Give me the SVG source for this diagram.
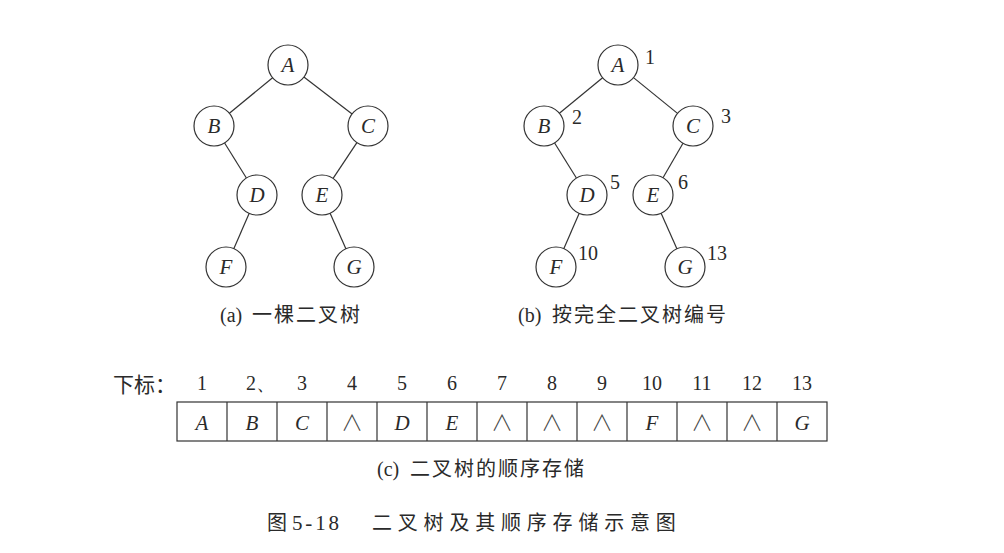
<svg xmlns="http://www.w3.org/2000/svg" width="1004" height="553" viewBox="0 0 1004 553">
<style>
.bg{fill:#ffffff}
.node circle{fill:none;stroke:#333;stroke-width:1.2}
.lbl{font-family:"Liberation Serif","DejaVu Serif",serif;font-style:italic;font-size:21px;fill:#2a2a2a;text-anchor:middle}
.num{font-family:"Liberation Serif","DejaVu Serif",serif;font-size:20px;fill:#2a2a2a}
.numc{text-anchor:middle}
.cap{font-family:"Liberation Serif","Noto Sans CJK SC",serif;font-size:20px;fill:#2a2a2a}
.cj{font-family:"Noto Sans CJK SC",sans-serif;letter-spacing:2px}
#edges line{stroke:#333;stroke-width:1.2}
.cell rect{fill:none;stroke:#333;stroke-width:1.2}
.div{stroke:#333;stroke-width:1.2}
.nil{font-family:"Noto Sans CJK SC",sans-serif;font-weight:300;font-size:22px;fill:#444;text-anchor:middle}
</style>
<rect class="bg" x="0" y="0" width="1004" height="553"/>

<g id="edges">
  <line x1="272.6" y1="77.7" x2="229.4" y2="113.3"/>
  <line x1="303.9" y1="77.1" x2="352.1" y2="113.9"/>
  <line x1="224.6" y1="143.0" x2="246.4" y2="178.0"/>
  <line x1="356.9" y1="142.6" x2="333.1" y2="178.4"/>
  <line x1="249.1" y1="213.4" x2="233.9" y2="248.6"/>
  <line x1="330.1" y1="213.3" x2="345.9" y2="248.7"/>
  <line x1="602.6" y1="77.7" x2="559.4" y2="113.3"/>
  <line x1="633.5" y1="77.6" x2="677.5" y2="113.4"/>
  <line x1="554.6" y1="143.0" x2="576.4" y2="178.0"/>
  <line x1="683.0" y1="143.3" x2="663.0" y2="177.7"/>
  <line x1="579.1" y1="213.4" x2="563.9" y2="248.6"/>
  <line x1="661.1" y1="213.3" x2="676.9" y2="248.7"/>
</g>

<!-- Tree (a) -->
<g id="a-A" class="node"><circle cx="288" cy="65" r="20"/><text class="lbl" x="288" y="72">A</text></g>
<g id="a-B" class="node"><circle cx="214" cy="126" r="20"/><text class="lbl" x="214" y="133">B</text></g>
<g id="a-C" class="node"><circle cx="368" cy="126" r="20"/><text class="lbl" x="368" y="133">C</text></g>
<g id="a-D" class="node"><circle cx="257" cy="195" r="20"/><text class="lbl" x="257" y="202">D</text></g>
<g id="a-E" class="node"><circle cx="322" cy="195" r="20"/><text class="lbl" x="322" y="202">E</text></g>
<g id="a-F" class="node"><circle cx="226" cy="267" r="20"/><text class="lbl" x="226" y="274">F</text></g>
<g id="a-G" class="node"><circle cx="354" cy="267" r="20"/><text class="lbl" x="354" y="274">G</text></g>

<!-- Tree (b) -->
<g id="b-A" class="node"><circle cx="618" cy="65" r="20"/><text class="lbl" x="618" y="72">A</text><text class="num numc" x="650" y="64">1</text></g>
<g id="b-B" class="node"><circle cx="544" cy="126" r="20"/><text class="lbl" x="544" y="133">B</text><text class="num numc" x="577" y="124">2</text></g>
<g id="b-C" class="node"><circle cx="693" cy="126" r="20"/><text class="lbl" x="693" y="133">C</text><text class="num numc" x="726" y="123">3</text></g>
<g id="b-D" class="node"><circle cx="587" cy="195" r="20"/><text class="lbl" x="587" y="202">D</text><text class="num numc" x="615" y="189">5</text></g>
<g id="b-E" class="node"><circle cx="653" cy="195" r="20"/><text class="lbl" x="653" y="202">E</text><text class="num numc" x="683" y="189">6</text></g>
<g id="b-F" class="node"><circle cx="556" cy="267" r="20"/><text class="lbl" x="556" y="274">F</text><text class="num numc" x="588" y="260">10</text></g>
<g id="b-G" class="node"><circle cx="685" cy="267" r="20"/><text class="lbl" x="685" y="274">G</text><text class="num numc" x="717" y="260">13</text></g>

<!-- captions -->
<text class="cap" x="220" y="322">(a) <tspan class="cj" x="252">一棵二叉树</tspan></text>
<text class="cap" x="518" y="322">(b) <tspan class="cj" x="552">按完全二叉树编号</tspan></text>

<!-- index row -->
<g id="index">
  <text class="cap" x="113" y="392" style="font-size:21px;font-family:'Noto Sans CJK SC',sans-serif">下标：</text>
  <text class="num numc" x="202" y="390">1</text>
  <text class="num" x="246" y="390">2、</text>
  <text class="num numc" x="302" y="390">3</text>
  <text class="num numc" x="352" y="390">4</text>
  <text class="num numc" x="402" y="390">5</text>
  <text class="num numc" x="452" y="390">6</text>
  <text class="num numc" x="502" y="390">7</text>
  <text class="num numc" x="552" y="390">8</text>
  <text class="num numc" x="602" y="390">9</text>
  <text class="num numc" x="652" y="390">10</text>
  <text class="num numc" x="702" y="390">11</text>
  <text class="num numc" x="752" y="390">12</text>
  <text class="num numc" x="802" y="390">13</text>
</g>

<g id="array" class="cell">
  <rect x="177" y="402" width="650" height="39"/>
  <line class="div" x1="227" y1="402" x2="227" y2="441"/>
  <line class="div" x1="277" y1="402" x2="277" y2="441"/>
  <line class="div" x1="327" y1="402" x2="327" y2="441"/>
  <line class="div" x1="377" y1="402" x2="377" y2="441"/>
  <line class="div" x1="427" y1="402" x2="427" y2="441"/>
  <line class="div" x1="477" y1="402" x2="477" y2="441"/>
  <line class="div" x1="527" y1="402" x2="527" y2="441"/>
  <line class="div" x1="577" y1="402" x2="577" y2="441"/>
  <line class="div" x1="627" y1="402" x2="627" y2="441"/>
  <line class="div" x1="677" y1="402" x2="677" y2="441"/>
  <line class="div" x1="727" y1="402" x2="727" y2="441"/>
  <line class="div" x1="777" y1="402" x2="777" y2="441"/>
  <text class="lbl" x="202" y="430">A</text>
  <text class="lbl" x="252" y="430">B</text>
  <text class="lbl" x="302" y="430">C</text>
  <text class="nil" x="352" y="430">∧</text>
  <text class="lbl" x="402" y="430">D</text>
  <text class="lbl" x="452" y="430">E</text>
  <text class="nil" x="502" y="430">∧</text>
  <text class="nil" x="552" y="430">∧</text>
  <text class="nil" x="602" y="430">∧</text>
  <text class="lbl" x="652" y="430">F</text>
  <text class="nil" x="702" y="430">∧</text>
  <text class="nil" x="752" y="430">∧</text>
  <text class="lbl" x="802" y="430">G</text>
</g>

<text class="cap" x="377" y="476">(c) <tspan class="cj" x="410">二叉树的顺序存储</tspan></text>

<g id="title">
  <text class="cap" x="267" y="530" style="font-family:'Noto Sans CJK SC',sans-serif">图</text>
  <text class="num" x="292" y="530" textLength="47" lengthAdjust="spacing" style="font-size:21px">5-18</text>
  <text class="cap" x="372" y="530"><tspan class="cj" style="letter-spacing:5.8px">二叉树及其顺序存储示意图</tspan></text>
</g>
</svg>
